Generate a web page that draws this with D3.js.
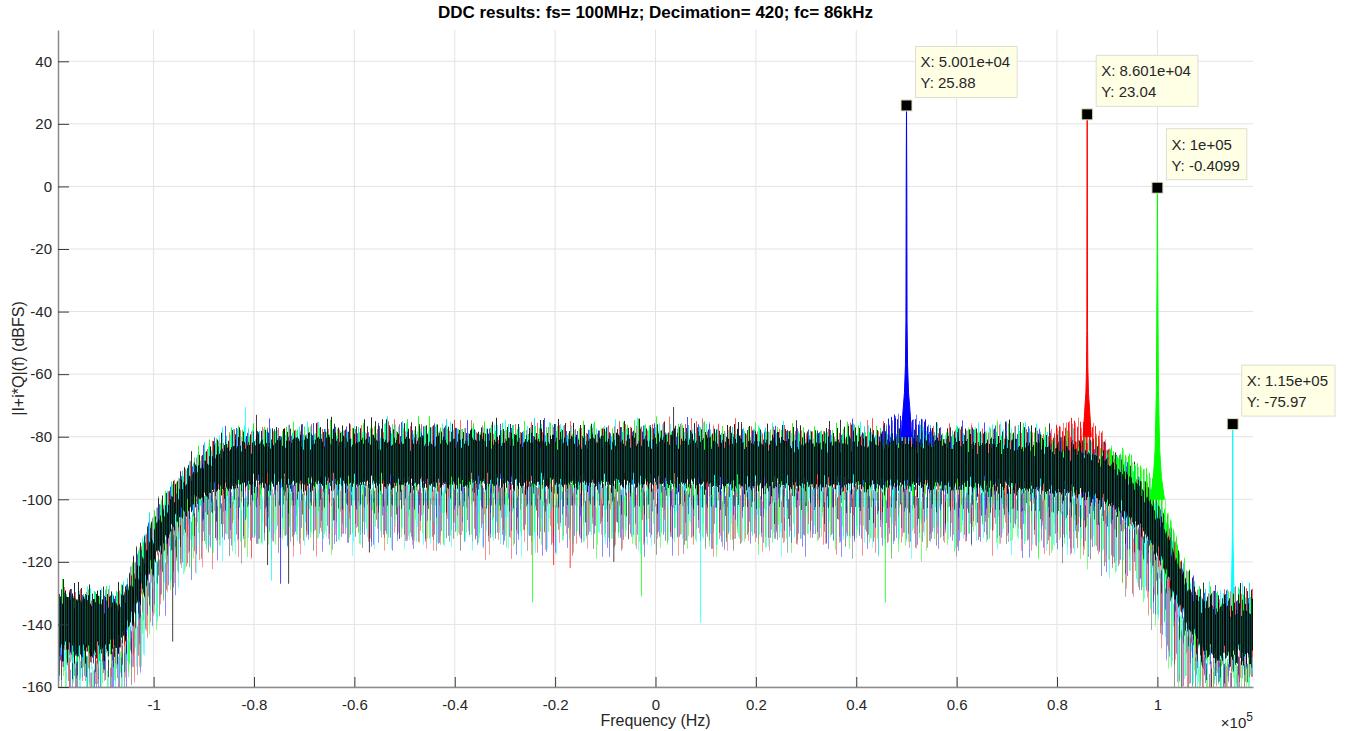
<!DOCTYPE html>
<html>
<head>
<meta charset="utf-8">
<script src="https://cdn.jsdelivr.net/npm/d3@7"></script>
<style>
body { margin: 0; background: #fff; }
text { font-family: "Liberation Sans", Arial, sans-serif; }
</style>
</head>
<body>
<div id="chart"></div>
<script>
const width = 1349, height = 731;

// noise floor envelope (kHz, dBFS)
const envF        = [-119.05, -114, -110, -107, -105, -103, -101, -99, -97, -95, -93, -91, -89, -87, -84, -81, -75, -60, -45, -30, -15, 0, 15, 30, 45, 60, 70, 78, 84, 88, 91, 94, 97, 99, 101, 103, 105, 107, 109, 112, 116, 119.05];
const envUpper    = [-129, -129, -129.5, -130, -125, -117, -108, -102, -97, -93, -89, -86, -83, -81, -79, -78, -77.5, -77, -77, -77.5, -77.5, -77, -77.5, -78, -77.5, -78, -78, -78.5, -80, -82, -85, -88, -94, -98, -104, -111, -121, -127, -129.5, -130, -130, -129.5];
const envCoreTop  = [-132, -132, -133, -133, -129, -122, -114, -107, -101, -97, -93, -90, -87, -85, -83, -82, -81, -81, -81, -81, -81, -81, -81, -81.5, -81.5, -82, -82, -83, -84.5, -86.5, -89, -92, -97, -102, -108, -116, -125, -131, -133, -134, -134, -133];
const envCoreBot  = [-149, -149, -149, -147, -141, -133, -124, -117, -111, -106, -103, -100, -98, -97, -96, -95, -95, -95, -95, -95, -95, -95, -95.5, -95.5, -95.5, -96, -96, -97, -98, -100, -102, -105, -110, -115, -121, -129, -137, -144, -149, -150, -150, -149];
const envMidBot   = [-155, -155, -155, -153, -148, -140, -131, -124, -118, -113, -110, -107, -105, -104, -103, -102, -102, -102, -102, -102, -102, -102, -102.5, -102.5, -102.5, -103, -103, -104, -105, -107, -109, -112, -117, -122, -128, -136, -144, -151, -155, -156, -156, -155];
const envLower    = [-160, -160, -160, -160, -157, -151, -141, -134, -128, -123, -119, -117, -115, -114, -113, -112, -112, -112, -112, -112, -112, -112, -112, -112, -112, -112, -112, -113, -115, -117, -120, -124, -129, -135, -143, -153, -160, -160, -160, -160, -160, -160];

// tone skirts above the floor [Hz, top dB, bottom dB]
const blueHump  = [[44500, -80, -83], [46500, -75, -83], [48500, -73.5, -83], [50000, -72.5, -83], [51500, -73.5, -83], [53500, -75, -83], [56000, -80, -83]];
const redHump   = [[78500, -80, -85], [81000, -76, -85], [83000, -75.5, -85], [85000, -75.5, -85], [87000, -76.5, -86], [89000, -79.5, -87], [90500, -84, -89]];
const greenHump = [[90000, -84, -91], [93000, -85.5, -93], [95000, -87.5, -96], [97000, -90, -99], [99000, -93, -103], [101000, -99, -110], [103000, -108, -118], [104500, -117, -124]];

// tone lines [Hz, dB]
const blueSpike  = [[49000, -80], [49300, -72], [49600, -66], [49800, -57], [49900, -43], [49950, 0], [50010, 25.88], [50070, 0], [50120, -43], [50220, -57], [50420, -66], [50720, -72], [51000, -80]];
const redSpike   = [[85200, -80], [85500, -72], [85750, -66], [85880, -58], [85940, -46], [85980, 0], [86010, 23.04], [86040, 0], [86080, -46], [86140, -58], [86270, -66], [86520, -72], [86820, -80]];
const greenSpike = [[98600, -100], [99200, -93], [99550, -84], [99800, -65], [99940, -25], [100000, -0.41], [100060, -25], [100200, -65], [100450, -84], [100800, -93], [101400, -100]];
const cyanSpike  = [[114750, -130], [114960, -110], [115000, -75.97], [115040, -110], [115250, -130]];

// single deep dips / tall excursions [series, Hz, dB]
const strays = [
  ["black", -96200, -145.5], ["black", -77300, -121], ["black", -73100, -127], ["black", -8300, -120], ["black", -57000, -117],
  ["blue", -74700, -127], ["cyan", -76500, -126], ["cyan", 9000, -139.5],
  ["green", -24500, -133], ["green", -2800, -131], ["green", 45800, -133],
  ["red", -20300, -121], ["red", -17000, -122],
  ["cyan", -81700, -70.5], ["black", 3600, -70.5], ["black", -79500, -73]
];

// data tips
const tipF = [50010, 86010, 100000, 115000];
const tipV = [25.88, 23.04, -0.4099, -75.97];
const tipX = ["5.001e+04", "8.601e+04", "1e+05", "1.15e+05"];
const tipY = ["25.88", "23.04", "-0.4099", "-75.97"];

const xTicks = [-1e5, -8e4, -6e4, -4e4, -2e4, 0, 2e4, 4e4, 6e4, 8e4, 1e5];
const yTicks = [-160, -140, -120, -100, -80, -60, -40, -20, 0, 20, 40];

const colors = { blue: "#0000ff", red: "#ff0000", green: "#00ff00", cyan: "#00ffff", black: "#000000" };

const svg = d3.select("#chart")
  .append("svg")
  .attr("width", width)
  .attr("height", height);

const pLeft = 58, pRight = 1253, pTop = 30, pBottom = 687;

const x = d3.scaleLinear().domain([-119047.6, 119047.6]).range([pLeft, pRight]);
const y = d3.scaleLinear().domain([-160, 50]).range([pBottom, pTop]);

const defs = svg.append("defs");
defs.append("clipPath").attr("id", "plotClip")
  .append("rect").attr("x", pLeft).attr("y", pTop).attr("width", pRight - pLeft).attr("height", pBottom - pTop);

// stripe textures for the dense noise bands
function stripes(id, w, bg, list) {
  const p = defs.append("pattern").attr("id", id)
    .attr("patternUnits", "userSpaceOnUse")
    .attr("width", w).attr("height", 40);
  if (bg) p.append("rect").attr("width", w).attr("height", 40).attr("fill", bg);
  list.forEach(s => p.append("rect")
    .attr("x", s[0]).attr("width", s[3] || 1).attr("height", 40)
    .attr("fill", s[1]).attr("fill-opacity", s[2]));
}
stripes("dense", 11, null, [[0, "#00ff00", 0.9], [1, "#000", 0.85], [2, "#00ffff", 0.9], [3, "#ff0000", 0.7],
  [4, "#000", 0.8], [5, "#0000ff", 0.7], [6, "#00e0e0", 0.9], [7, "#00ff00", 0.8], [8, "#000", 0.85], [9, "#ff0000", 0.6], [10, "#00ffff", 0.8]]);
stripes("mid", 9, null, [[0, "#000", 0.6], [1, "#00ffff", 0.6], [3, "#00ff00", 0.55], [4, "#0000ff", 0.5], [5, "#000", 0.55], [7, "#ff0000", 0.45], [8, "#00cccc", 0.55]]);
stripes("core", 7, "#000", [[1, "#00c8c8", 0.45], [3, "#10a060", 0.3], [5, "#00b0b0", 0.35]]);
stripes("sparse", 7, null, [[0, "#0000ff", 0.45], [2, "#00ff00", 0.5], [3, "#00ffff", 0.55], [5, "#000", 0.4], [6, "#ff0000", 0.4]]);
stripes("sparse2", 13, null, [[1, "#00ffff", 0.5], [4, "#ff0000", 0.45], [7, "#555", 0.5], [9, "#0000ff", 0.45], [11, "#00ff00", 0.5]]);
["blue", "red", "green"].forEach(c =>
  stripes("hump_" + c, 3, null, [[0, colors[c], 0.9], [1, colors[c], 0.55]]));

// jagged column texture for the bands
function jag(id, seed, scale, fx) {
  const f = defs.append("filter").attr("id", id)
    .attr("filterUnits", "userSpaceOnUse")
    .attr("x", 0).attr("y", 0).attr("width", width).attr("height", height)
    .attr("color-interpolation-filters", "sRGB");
  f.append("feTurbulence").attr("type", "fractalNoise")
    .attr("baseFrequency", (fx || 0.55) + " 0.002").attr("numOctaves", 2).attr("seed", seed).attr("result", "n");
  f.append("feColorMatrix").attr("in", "n").attr("type", "matrix")
    .attr("values", "0 0 0 0 0.5  0 2.2 0 0 -0.6  0 0 0 0 0  0 0 0 0 1").attr("result", "m");
  f.append("feDisplacementMap").attr("in", "SourceGraphic").attr("in2", "m")
    .attr("scale", scale).attr("xChannelSelector", "R").attr("yChannelSelector", "G");
}
jag("jagA", 3, 22);
jag("jagB", 11, 22, 0.7);
jag("jagC", 27, 40);
jag("jagE", 41, 50, 0.8);
jag("jagM", 17, 34, 0.75);
jag("jagD", 5, 14);

// grid
const grid = svg.append("g").attr("stroke", "#e3e3e3").attr("stroke-width", 1);
grid.selectAll(".gx").data(xTicks).enter().append("line")
  .attr("x1", d => x(d)).attr("x2", d => x(d)).attr("y1", pTop).attr("y2", pBottom);
grid.selectAll(".gy").data(yTicks).enter().append("line")
  .attr("x1", pLeft).attr("x2", pRight).attr("y1", d => y(d)).attr("y2", d => y(d));

const plot = svg.append("g").attr("clip-path", "url(#plotClip)");
const idx = d3.range(envF.length);
const band = (lo, hi) => d3.area()
  .x(i => x(envF[i] * 1000)).y0(i => y(lo[i])).y1(i => y(hi[i]));

plot.append("g").attr("filter", "url(#jagE)").append("path")
  .attr("d", band(envLower, envCoreBot)(idx)).attr("fill", "url(#sparse2)");
plot.append("g").attr("filter", "url(#jagC)").append("path")
  .attr("d", band(envLower, envCoreBot)(idx)).attr("fill", "url(#sparse)");
plot.append("g").attr("filter", "url(#jagM)").append("path")
  .attr("d", band(envMidBot, envCoreBot)(idx)).attr("fill", "url(#mid)");
plot.append("g").attr("filter", "url(#jagA)").append("path")
  .attr("d", band(envCoreBot, envUpper)(idx)).attr("fill", "url(#dense)");

// tone skirts
const hump = d3.area().x(d => x(d[0])).y0(d => y(d[2])).y1(d => y(d[1]));
[["blue", blueHump], ["red", redHump], ["green", greenHump]].forEach(h =>
  plot.append("g").attr("filter", "url(#jagD)").append("path")
    .attr("d", hump(h[1])).attr("fill", "url(#hump_" + h[0] + ")"));

// tone lines
const spikeLine = d3.line().x(d => x(d[0])).y(d => y(d[1]));
[["blue", blueSpike], ["red", redSpike], ["green", greenSpike], ["cyan", cyanSpike]].forEach(s =>
  plot.append("path")
    .attr("d", spikeLine(s[1]) + "Z")
    .attr("fill", colors[s[0]]).attr("stroke", colors[s[0]]).attr("stroke-width", 1));

// black trace core drawn last, over the coloured traces
plot.append("g").attr("filter", "url(#jagB)").append("path")
  .attr("d", band(envCoreBot, envCoreTop)(idx)).attr("fill", "url(#core)").attr("fill-opacity", 0.9);

// isolated excursions
const coreTopAt = d3.scaleLinear().domain(envF.map(d => d * 1000)).range(envCoreTop);
const coreBotAt = d3.scaleLinear().domain(envF.map(d => d * 1000)).range(envCoreBot);
plot.selectAll(".stray").data(strays).enter().append("line")
  .attr("x1", d => x(d[1])).attr("x2", d => x(d[1]))
  .attr("y1", d => y(d[2] < coreBotAt(d[1]) ? coreBotAt(d[1]) : coreTopAt(d[1])))
  .attr("y2", d => y(d[2]))
  .attr("stroke", d => colors[d[0]]).attr("stroke-opacity", 0.75).attr("stroke-width", 1);

// axes
const fmt = v => String(v);
const xAxis = d3.axisBottom(x).tickValues(xTicks)
  .tickFormat(d => fmt(+(d / 1e5).toFixed(1))).tickSizeInner(-10).tickSizeOuter(0).tickPadding(12);
const yAxis = d3.axisLeft(y).tickValues(yTicks)
  .tickFormat(fmt).tickSizeInner(-11).tickSizeOuter(0).tickPadding(6);

const gx = svg.append("g").attr("transform", `translate(0,${pBottom})`).call(xAxis);
const gy = svg.append("g").attr("transform", `translate(${pLeft},0)`).call(yAxis);
[gx, gy].forEach(g => {
  g.select(".domain").attr("stroke", "#8c8c8c").attr("stroke-width", 1.5);
  g.selectAll(".tick line").attr("stroke", "#3a3a3a");
  g.selectAll(".tick text").attr("fill", "#262626").style("font-size", "15px")
    .style("font-family", '"Liberation Sans", Arial, sans-serif');
});

// exponent
const ex = svg.append("text").attr("x", pRight).attr("y", 728).attr("text-anchor", "end")
  .attr("fill", "#262626").style("font-size", "15px");
ex.append("tspan").text("\u00d710");
ex.append("tspan").attr("dy", -7).style("font-size", "12px").text("5");

// labels
svg.append("text").attr("x", (pLeft + pRight) / 2).attr("y", 726).attr("text-anchor", "middle")
  .attr("fill", "#262626").style("font-size", "16px").text("Frequency (Hz)");
svg.append("text").attr("transform", `translate(24,${(pTop + pBottom) / 2}) rotate(-90)`)
  .attr("text-anchor", "middle").attr("fill", "#262626").style("font-size", "16px")
  .text("|I+i*Q|(f) (dBFS)");
svg.append("text").attr("x", (pLeft + pRight) / 2).attr("y", 18).attr("text-anchor", "middle")
  .attr("fill", "#000").style("font-size", "17px").style("font-weight", "bold")
  .text("DDC results: fs= 100MHz; Decimation= 420; fc= 86kHz");

// data tips
tipF.forEach((f, i) => {
  const mx = x(f), my = y(tipV[i]);
  const g = svg.append("g");
  const bx = mx + 9, by = my - 8 - 51;
  const rect = g.append("rect").attr("x", bx).attr("y", by).attr("height", 51)
    .attr("fill", "#ffffe6").attr("stroke", "#deded0").attr("stroke-width", 1);
  const t1 = g.append("text").attr("x", bx + 5).attr("y", by + 21).attr("fill", "#262626")
    .style("font-size", "15px").text("X: " + tipX[i]);
  const t2 = g.append("text").attr("x", bx + 5).attr("y", by + 42).attr("fill", "#262626")
    .style("font-size", "15px").text("Y: " + tipY[i]);
  const w = Math.max(t1.node().getComputedTextLength(), t2.node().getComputedTextLength());
  rect.attr("width", w + 12);
  svg.append("rect").attr("x", mx - 5.5).attr("y", my - 5.5).attr("width", 11).attr("height", 11)
    .attr("fill", "#000").attr("stroke", "#e8e4c0").attr("stroke-width", 1);
});
</script>
</body>
</html>
